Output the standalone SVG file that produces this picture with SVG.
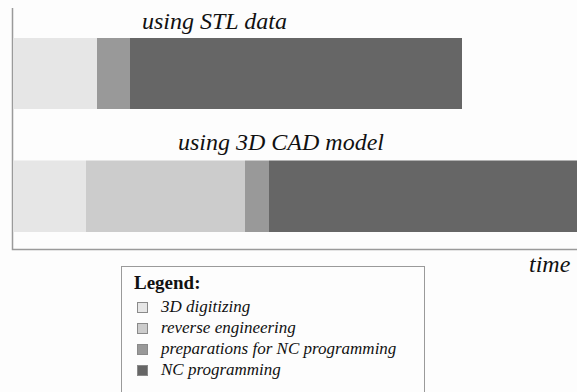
<svg xmlns="http://www.w3.org/2000/svg" width="577" height="392" viewBox="0 0 577 392">
  <style>
    text { font-family: "Liberation Serif", "Tinos", "Times New Roman", Times, "DejaVu Serif", serif; fill: #111; }
    .ttl { font-style: italic; font-size: 24px; }
    .leg { font-style: italic; font-size: 17px; }
    .legh { font-weight: bold; font-size: 19px; }
    .axis { stroke: #9a9a9a; stroke-width: 1.5; fill: none; }
    .c1 { fill: #e6e6e6; }
    .c2 { fill: #cccccc; }
    .c3 { fill: #999999; }
    .c4 { fill: #666666; }
    .sw { stroke: #8a8a8a; stroke-width: 1; }
  </style>
  <rect width="577" height="392" fill="#fdfdfd"/>

  <!-- time axes -->
  <g id="axes">
    <path class="axis" d="M12.5,8 V249.5 H577"/>
    <text class="ttl" x="529" y="272" font-family="Liberation Serif">time</text>
  </g>

  <!-- process chain based on STL data -->
  <g id="stl">
    <text class="ttl" x="142" y="29">using STL data</text>
    <rect class="c1" x="13" y="38" width="84" height="71"/>
    <rect class="c3" x="97" y="38" width="33" height="71"/>
    <rect class="c4" x="130" y="38" width="332" height="71"/>
  </g>

  <!-- process chain based on a 3D CAD model -->
  <g id="cad">
    <text class="ttl" x="178" y="150">using 3D CAD model</text>
    <rect class="c1" x="13" y="160.5" width="73" height="71.5"/>
    <rect class="c2" x="86" y="160.5" width="159" height="71.5"/>
    <rect class="c3" x="245" y="160.5" width="24" height="71.5"/>
    <rect class="c4" x="269" y="160.5" width="308" height="71.5"/>
  </g>

  <!-- legend -->
  <g id="legend">
    <rect x="121.5" y="266.5" width="303" height="140" fill="#fdfdfd" stroke="#9a9a9a" stroke-width="1"/>
    <text class="legh" x="134" y="289">Legend:</text>
    <rect class="c1 sw" x="137.5" y="302.5" width="10" height="10"/>
    <text class="leg" x="161" y="312">3D digitizing</text>
    <rect class="c2 sw" x="137.5" y="323.5" width="10" height="10"/>
    <text class="leg" x="161" y="333">reverse engineering</text>
    <rect class="c3 sw" x="137.5" y="344.5" width="10" height="10"/>
    <text class="leg" x="161" y="354">preparations for NC programming</text>
    <rect class="c4 sw" x="137.5" y="365.5" width="10" height="10"/>
    <text class="leg" x="161" y="375">NC programming</text>
  </g>
</svg>
